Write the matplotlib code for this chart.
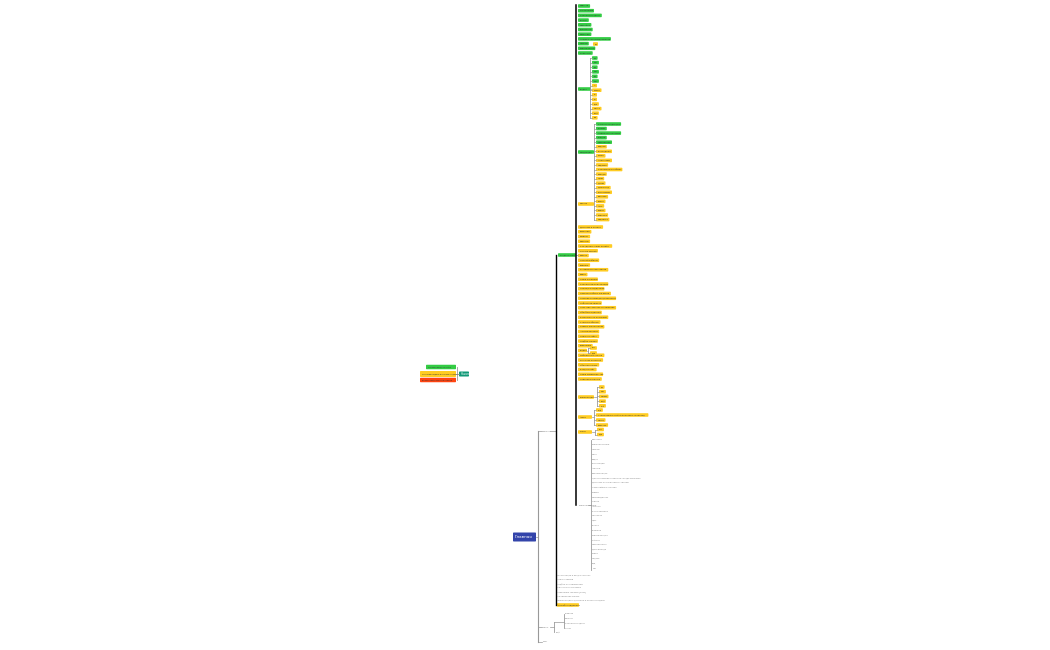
import matplotlib
matplotlib.use("Agg")
import matplotlib.pyplot as plt
from matplotlib.patches import FancyBboxPatch

G, Y, R, T, B, K = "#33cc44", "#ffcc22", "#ff4411", "#119977", "#3344aa", "#999999"

root_label = "Главная"
left_node = "Начало"
left_items = [("Ссылки и разделы сайта", G), ("Описание раздела и краткие сведения", Y), ("Важные уведомления и новости", R)]

groupA = ["Новости", "О компании", "Контакты и адрес", "Услуги", "Партнёры", "Документы", "Вакансии",
          "Акции и спецпредложения", "Отзывы", "Сертификаты", "Реквизиты"]
groupB = [("Да", G), ("Нет", G), ("Да", G), ("Нет", G), ("Да", G), ("Нет", G), ("А", Y), ("Более", Y),
          ("Б", Y), ("В", Y), ("Где", Y), ("Много", Y), ("Ещё", Y), ("Ок", Y)]
groupC = [("Каталог продукции", G), ("Товары", G), ("Новые поступления", G), ("Скидки", G), ("Популярное", G),
          ("Лидеры", Y), ("Распродажа", Y), ("Сезон", Y), ("Аксессуары", Y), ("Подарки", Y),
          ("Комплекты и наборы", Y), ("Бренды", Y), ("Цены", Y), ("Детям", Y), ("Дом и сад", Y),
          ("Инструмент", Y), ("Бытовое", Y), ("Спорт", Y), ("Авто", Y), ("Книги", Y), ("Игрушки", Y), ("Подписка", Y)]
groupD = ["Доставка и оплата", "Гарантия", "Возврат", "Вопросы", "Как сделать заказ онлайн", "Оплата картой",
          "Бонусы", "Личный кабинет", "Корзина", "Условия использования", "Карта", "Наши магазины",
          "Контактная информация", "Помощь и поддержка", "Правила работы магазина", "Политика конфиденциальности",
          "Публичная оферта", "Пользовательское соглашение", "Обработка данных", "Безопасность платежей",
          "Статьи и обзоры", "Советы покупателям", "Частые вопросы", "Поиск по сайту", "Подбор товара",
          "Сравнение", "Раздел", "Избранное и списки", "Рассылка новостей", "Обратная связь", "Вход на сайт",
          "Наши преимущества", "Новинки каталога"]
groupD_node = 26
groupE = ["Да", "Нет", "Может", "Ещё", "Всё"]
groupF = ["Год", "Статистика и отчёты компании за период", "Месяц", "Квартал"]
groupG = ["Раз", "Два"]
groupH = ["Описание", "Характеристики", "Отзывы", "Фото", "Видео", "Инструкции", "Аналоги", "Комплектация",
          "Цена и наличие товара на складе магазина", "Доставка по регионам и странам", "Гарантийные условия",
          "Сервис", "Производитель", "Страна", "Артикул", "Вес и размеры", "Материал", "Цвет", "Размер",
          "Упаковка", "Сертификация", "Рейтинг", "Популярность", "Дата выхода", "Серия", "Модель", "Код", "Тип"]
lower = ["Регистрация и вход в систему", "Поиск товаров", "Подбор по параметрам", "Фильтр и сортировка",
         "Сравнение товаров [NEW]", "Оформление заказа", "Информация о доставке и пунктах выдачи"]
lower_last = "Служба поддержки"
menu_items = ["Главная", "Каталог", "Контакты и адрес", "О нас"]

fig = plt.figure(figsize=(10.5, 6.5), dpi=100)
ax = fig.add_axes([0, 0, 1, 1])
ax.set_xlim(0, 1050); ax.set_ylim(650, 0); ax.axis("off")

CW = 1.3  # px per char

def box(x, y, label, color, fs=1.5, tc="#333333", h=3.6, w=None):
    w = w if w else max(5, len(label) * CW + 3)
    if color is None:
        ax.text(x + 1, y, label, fontsize=fs, color="#888888", va="center", ha="left")
        return x + w
    ax.add_patch(FancyBboxPatch((x, y - h / 2), w, h, boxstyle="round,pad=0,rounding_size=0.8",
                                fc=color, ec="none"))
    ax.text(x + 1.5, y, label, fontsize=fs, color=tc, va="center", ha="left")
    return x + w

def vline(x, y0, y1, c=K, lw=0.6):
    ax.plot([x, x], [y0, y1], color=c, lw=lw)

def hline(x0, x1, y, c=K, lw=0.5):
    ax.plot([x0, x1], [y, y], color=c, lw=lw)

def column(x, ytop, step, items, default_color=None):
    ys = []
    for i, it in enumerate(items):
        lab, col = it if isinstance(it, tuple) else (it, default_color)
        y = ytop + i * step
        ys.append(y)
        hline(x - 2, x, y)
        box(x, y, lab, col)
    vline(x - 2, ys[0], ys[-1])
    return ys

# root
box(513, 537, root_label, B, fs=3, tc="white", h=9, w=23)
# left side
box(459, 374, left_node, T, fs=2, tc="white", h=5, w=10)
for (lab, col), y, w in zip(left_items, [367, 374, 380], [30, 36, 36]):
    box(456 - w, y, lab, col, fs=1.3, h=4.5 if y != 374 else 6, w=w)
vline(457, 367, 380); hline(456, 459, 374)

# right trunk
vline(538, 431, 642, lw=0.8); hline(536, 538, 537)
for y, lab in [(431, "Каталог"), (627, "Меню"), (642, "Блог")]:
    hline(538, 542, y); box(542, y, lab, None)
hline(550, 556, 431)
vline(556, 255, 605, c="black", lw=1.0)

box(558, 255, "Разделы сайта", G, w=18)
hline(576, 578, 255)
vline(576, 5, 505, c="black", lw=1.1)

yA = [6 + i * 4.7 for i in range(len(groupA))]
for y, lab in zip(yA, groupA):
    box(578, y, lab, G)
box(593, 44, "Да", Y, w=5)

def sub(node_y, node_label, node_col, x, ytop, step, items, dc=None, nw=13):
    box(578, node_y, node_label, node_col, w=nw)
    ys = column(x, ytop, step, items, dc)
    hline(578 + nw, x - 2, node_y)
    return ys

sub(89, "Раздел", G, 592, 58, 4.6, groupB)
sub(152, "Продукция", G, 596, 124, 4.55, groupC, nw=16)
box(578, 204, "Прочее", Y, w=16)

for i, lab in enumerate(groupD):
    y = 227 + i * 4.75
    if i == groupD_node:
        box(578, y, lab, Y, w=9)
        hline(587, 588, y)
        column(590, y - 2.5, 5, groupG, Y)
    else:
        box(578, y, lab, Y)
sub(397, "Информация", Y, 599, 387, 4.7, groupE, Y, nw=16)
sub(417, "Архив", Y, 596, 410, 5, groupF, Y, nw=14)
sub(432, "Итоги", Y, 597, 429.5, 5, groupG, Y, nw=14)

box(578, 505, "Характеристики", None)
vline(591, 440, 570); hline(588, 591, 505)
for i, lab in enumerate(groupH):
    box(591, 440 + i * 4.75, lab, None)

for i, lab in enumerate(lower):
    box(556, 575 + i * 4.3, lab, None)
box(557, 605, lower_last, Y, w=22)

vline(554, 622, 632); hline(550, 554, 627)
vline(564, 614, 628)
for i, lab in enumerate(menu_items):
    box(564, 614 + i * 4.7, lab, None)
hline(554, 564, 622); box(555, 632, "Ещё", None)

fig.savefig("out.png", dpi=100, facecolor="white")
